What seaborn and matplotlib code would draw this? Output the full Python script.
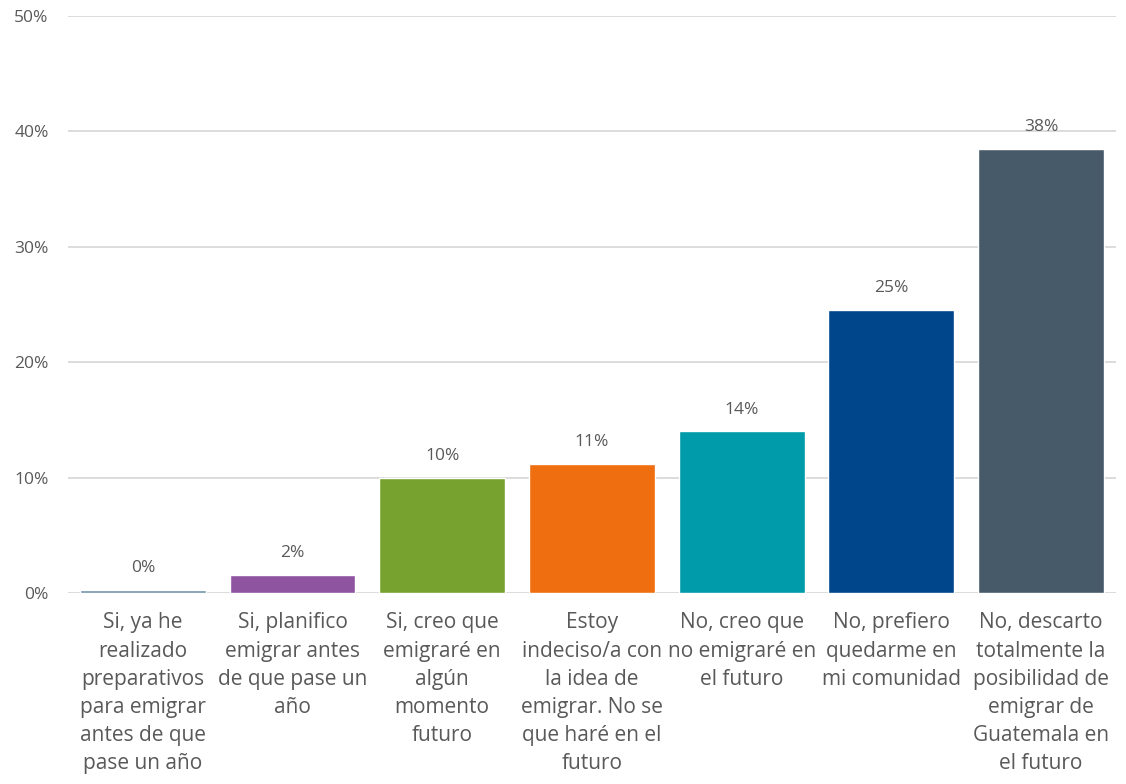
import matplotlib
matplotlib.use("Agg")
import matplotlib.pyplot as plt
import seaborn as sns
import pandas as pd

categories = [
    "Si, ya he\nrealizado\npreparativos\npara emigrar\nantes de que\npase un año",
    "Si, planifico\nemigrar antes\nde que pase un\naño",
    "Si, creo que\nemigraré en\nalgún\nmomento\nfuturo",
    "Estoy\nindeciso/a con\nla idea de\nemigrar. No se\nque haré en el\nfuturo",
    "No, creo que\nno emigraré en\nel futuro",
    "No, prefiero\nquedarme en\nmi comunidad",
    "No, descarto\ntotalmente la\nposibilidad de\nemigrar de\nGuatemala en\nel futuro",
]
values = [0.25, 1.6, 10.0, 11.2, 14.0, 24.5, 38.5]
value_labels = ["0%", "2%", "10%", "11%", "14%", "25%", "38%"]
colors = ["#7293A8", "#8E54A0", "#77A22F", "#EE6E10", "#009BAA", "#00468A", "#465A6A"]
y_ticks = [0, 10, 20, 30, 40, 50]

sns.set_theme(style="white")
plt.rcParams["font.family"] = ["Open Sans", "DejaVu Sans"]
text_color = "#595959"

df = pd.DataFrame({"cat": categories, "val": values})

fig = plt.figure(figsize=(11.26, 7.84), dpi=100)
ax = fig.add_axes([0.0604, 0.2436, 0.9306, 0.736])

sns.barplot(data=df, x="cat", y="val", hue="cat", palette=colors,
            legend=False, width=0.84, saturation=1, ax=ax, zorder=2)

ax.set_ylim(0, 50)
ax.set_yticks(y_ticks)
ax.set_yticklabels([f"{t}%" for t in y_ticks], color=text_color, fontsize=12.5)
ax.grid(axis="y", color="#D9D9D9", linewidth=1.3, zorder=0)
ax.set_axisbelow(True)
for s in ax.spines.values():
    s.set_visible(False)
ax.tick_params(axis="y", length=0, pad=14)
ax.tick_params(axis="x", length=0, pad=14)
ax.set_xticks(range(len(categories)))
ax.set_xticklabels(categories, fontsize=15, color=text_color, linespacing=1.45,
                   va="top", ha="center")
ax.set_xlabel("")
ax.set_ylabel("")

for i, (v, lab) in enumerate(zip(values, value_labels)):
    ax.annotate(lab, (i, v), xytext=(0, 10), textcoords="offset points",
                ha="center", va="bottom", fontsize=12.5, color=text_color)

fig.savefig("out.png", dpi=100)
